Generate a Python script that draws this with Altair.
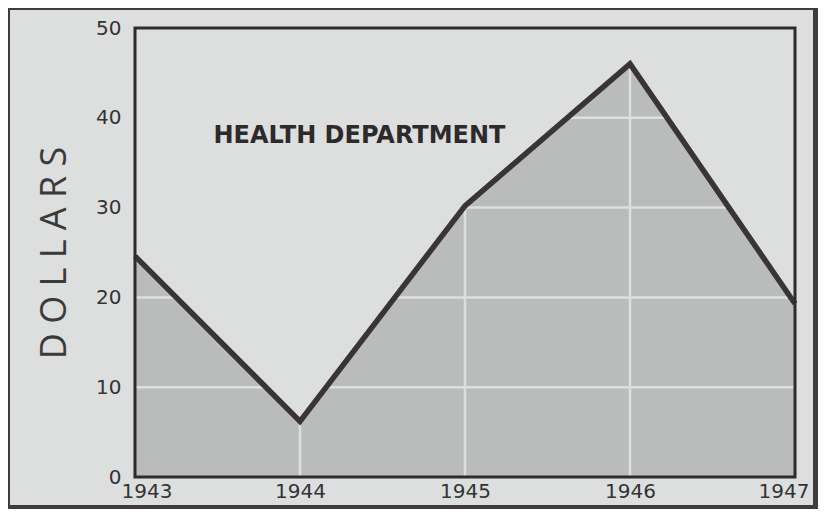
import altair as alt
import pandas as pd

years = [1943, 1944, 1945, 1946, 1947]
dollars = [24.6, 6.2, 30.2, 46.0, 19.3]
y_ticks = [0, 10, 20, 30, 40, 50]
grid_years = [1944, 1945, 1946]
grid_values = [10, 20, 30, 40]
title_text = "HEALTH DEPARTMENT"
y_title = "D O L L A R S"

BG = "#dcdfde"
INK = "#2f2b2c"

df = pd.DataFrame({"year": years, "dollars": dollars})
gx = pd.DataFrame({"year": grid_years})
gy = pd.DataFrame({"v": grid_values})

W, H = 660, 449

xscale = alt.Scale(domain=[1943, 1947], nice=False, zero=False)
yscale = alt.Scale(domain=[0, 50], nice=False)

x_axis = alt.Axis(
    values=years, format="d", title=None, grid=False, ticks=False, domain=False,
    labelFontSize=20, labelColor="#333333", labelFont="DejaVu Sans", labelPadding=4,
    labelFlush=True, labelFlushOffset=14, zindex=2,
)
y_axis = alt.Axis(
    values=y_ticks, title=y_title, grid=False, ticks=False, domain=False,
    labelFontSize=20, labelColor="#333333", labelFont="DejaVu Sans", labelPadding=14,
    titleFontSize=36, titleFontWeight="normal", titleFont="Open Sans",
    titleColor="#3a3a3a", titlePadding=22, zindex=2,
)

# light card behind the plot (decorative frame)
card = alt.Chart(pd.DataFrame({"k": [0]})).mark_rect(color=BG).encode(
    x=alt.value(-125), x2=alt.value(678), y=alt.value(-18), y2=alt.value(477)
)

area = alt.Chart(df).mark_area(color="#b9bcbb", opacity=1).encode(
    x=alt.X("year:Q", scale=xscale, axis=x_axis),
    y=alt.Y("dollars:Q", scale=yscale, axis=y_axis),
)

vgrid = alt.Chart(gx).mark_rule(color=BG, strokeWidth=2.5).encode(
    x=alt.X("year:Q", scale=xscale)
)
hgrid = alt.Chart(gy).mark_rule(color=BG, strokeWidth=2.5).encode(
    y=alt.Y("v:Q", scale=yscale)
)

line = alt.Chart(df).mark_line(color="#3a3436", strokeWidth=5.5, strokeJoin="miter", strokeCap="butt").encode(
    x=alt.X("year:Q", scale=xscale),
    y=alt.Y("dollars:Q", scale=yscale),
)

label = alt.Chart(pd.DataFrame({"t": [title_text], "x": [1944.36], "y": [38.0]})).mark_text(
    font="DejaVu Sans", fontWeight="bold", fontSize=24, color="#2e2a2b",
    align="center", baseline="middle"
).encode(
    x=alt.X("x:Q", scale=xscale), y=alt.Y("y:Q", scale=yscale), text="t:N"
)

border = alt.Chart(pd.DataFrame({"k": [0]})).mark_rect(
    fill=None, fillOpacity=0, stroke=INK, strokeWidth=3
).encode(
    x=alt.value(0), x2=alt.value(W), y=alt.value(0), y2=alt.value(H)
)

chart = alt.layer(card, area, vgrid, hgrid, line, label, border).properties(
    width=W, height=H,
    background="#3e3c3d",
    autosize=alt.AutoSizeParams(type="none"),
    padding={"left": 127, "top": 20, "right": 23, "bottom": 32},
).configure_view(strokeWidth=0, fill=BG)

chart.save("out.html", embed_options={"renderer": "svg", "actions": False})
